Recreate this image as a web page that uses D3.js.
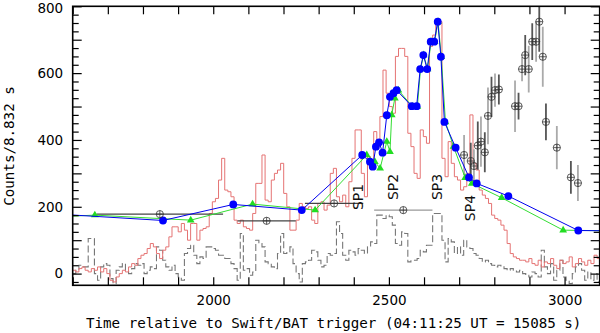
<!DOCTYPE html>
<html>
<head>
<meta charset="utf-8">
<script src="https://d3js.org/d3.v7.min.js"></script>
<style>
  body { margin: 0; background: #fff; }
  text { font-family: "DejaVu Sans", sans-serif; }
</style>
</head>
<body>
<div id="my_dataviz"></div>
<script>

// light curve bins: 8.832 s wide, first bin starts at 1600 s
var binStart = 1600, binWidth = 8.832;

// red histogram (counts per bin)
var redCounts = [10, 5, 15, 20, 10, 5, 15, 10, 20, 5, 15, 0, -20, -25,
  -10, 0, 10, 5, 20, 30, 25,
  45, 55, 60, 75, 90, 80, 60, 45, 70, 80,
  110, 140, 140, 125, 150, 130, 100, 150, 150, 100, 130,
  135, 140, 180, 215, 225, 280, 345, 250, 245, 230,
  160, 150, 160, 140, 135, 130, 180, 270, 270, 355, 220, 215,
  280, 300, 310, 330, 240, 200, 130, 130, 160, 210, 200, 195,
  200, 160, 150, 210, 215, 190, 205,
  300, 315, 230, 215, 235, 200, 275, 345, 430, 430,
  300, 230, 350, 335, 425, 380, 470, 609, 540, 500,
  480, 650, 674, 674, 650, 420, 380, 300, 285, 430,
  410, 390, 680, 714, 754, 754, 345, 290, 395, 330,
  290, 280, 250,
  260, 300, 475, 330, 310, 250, 235, 225, 210, 175,
  165, 160, 145, 130, 90, 60, 50, 45, 40, 40,
  35, 45, 30, 25, 40, 20, 35, 30, 45, 25, 15, 40,
  30, 35, 50, 20, 30, 45, 35, 25, 40, 30, 55, 45];

// gray dashed histogram (counts per bin)
var grayCounts = [0, 10, 25, 20, 20, 105, 105, 0, -20, 20, 30, 25, -15, -30,
  10, 20, 30, 10, 0, 15, 30, 25, 30, 0, 10, 20, 15, 80, 70, 40,
  20, 10, 25, 0, -10, -20, 60, 75, 85, 55, 30,
  50, 45, 80, 80, 75, 70, 55, 55, 45, 45,
  30, 15, -20, 120, 10, 15, -5, 5, 100, 90,
  80, 35, 30, 20, 15, 60, 120, 60, 65, 80,
  30, 0, -25, 30, 35, 40, 70, 65, 40, 20,
  25, 60, 55,
  60, 155, 120, 55, 40, 70, 65, 55, 75, 70,
  60, 80, 95, 90, 175, 175, 165, 175, 170, 145,
  90, 85, 125, 120, 35, 40, 40, 45, 70, 65,
  85, 85, 180, 180, 180, 100, 35, 105, 95, 60,
  80, 55,
  100, 80, 75, 60, 55, 45, 35, 40, 30, 25,
  20, 25, 20, 15, 10, 15, 10, 5, 10, 0,
  -5, -10, 5, 0, -10, 70, 20, 0, 30, -20,
  10, 40, -10, -20, -30, 0, 20, 30, 10, -20,
  5, -20, 0, -25];

// blue points
var blueTime = [1558, 1857, 2057, 2252, 2424, 2446, 2454, 2463, 2472, 2482,
  2494, 2503, 2513, 2522, 2565, 2579, 2589, 2598, 2609, 2619,
  2629, 2639, 2648, 2658, 2690, 2728, 2750, 2840, 3039, 3130];
var blueCounts = [178, 159, 207, 190, 355, 335, 320, 380, 393, 362,
  474, 529, 540, 549, 501, 501, 612, 654, 612, 694,
  694, 754, 649, 454, 377, 288, 270, 232, 129, 128];

// green triangles
var greenTime = [1555, 1663, 1936, 2112, 2290, 2437, 2460, 2475, 2494, 2503,
  2508, 2517, 2527, 2567, 2581, 2590, 2599, 2610, 2620, 2630,
  2640, 2649, 2661, 2684, 2717, 2736, 2821, 2996, 3130];
var greenCounts = [170, 175, 160, 208, 190, 355, 335, 315, 395, 365,
  475, 525, 549, 500, 500, 612, 654, 612, 694, 694,
  754, 649, 454, 380, 287, 270, 227, 130, 128];

// open circles with error bars
var circTime = [1848, 2152, 2344, 2541, 2714, 2733, 2742, 2753, 2762, 2773,
  2782, 2792, 2802, 2813, 2859, 2869, 2879, 2888, 2898, 2908,
  2919, 2928, 2938, 2947, 2978, 3018, 3038];
var circCounts = [178, 158, 210, 190, 355, 337, 322, 383, 395, 363,
  472, 529, 549, 551, 501, 501, 612, 654, 612, 694,
  694, 754, 649, 454, 377, 288, 271];
var circTimeErr = [180, 83, 83, 83, 0, 0, 0, 0, 0, 0,
  0, 0, 0, 0, 0, 0, 0, 0, 0, 0,
  0, 0, 0, 0, 0, 0, 0];
var circCountErr = [0, 0, 0, 0, 60, 55, 50, 72, 75, 60,
  85, 60, 50, 45, 77, 40, 36, 60, 70, 55,
  60, 90, 90, 55, 65, 49, 54];

// labels
var spNames = ["SP1", "SP2", "SP3", "SP4"];
var spTime = [2426, 2526, 2650, 2744];
var spCounts = [190, 220, 220, 157];

var xLabels = [2000, 2500, 3000];
var yLabels = [0, 200, 400, 600, 800];

var W = 600, H = 333;
var pLeft = 72.7, pRight = 599.7, pTop = 6.3, pBottom = 285.3;

var svg = d3.select("#my_dataviz")
  .append("svg")
    .attr("width", W)
    .attr("height", H);

var x = d3.scaleLinear().domain([1600, 3100]).range([pLeft, pRight]);
var y = d3.scaleLinear().domain([-35, 800]).range([pBottom, pTop]);

svg.append("clipPath")
    .attr("id", "clip")
  .append("rect")
    .attr("x", pLeft).attr("y", pTop)
    .attr("width", pRight - pLeft).attr("height", pBottom - pTop);

var plot = svg.append("g").attr("clip-path", "url(#clip)");

// histograms
function steps(counts) {
  var pts = counts.map(function(v, i) { return [binStart + i * binWidth, v]; });
  pts.push([binStart + counts.length * binWidth, counts[counts.length - 1]]);
  return pts;
}
var stepLine = d3.line()
  .x(function(d) { return x(d[0]); })
  .y(function(d) { return y(d[1]); })
  .curve(d3.curveStepAfter);

plot.append("path")
  .datum(steps(grayCounts))
  .attr("d", stepLine)
  .style("fill", "none")
  .style("stroke", "#777")
  .style("stroke-width", 1.1)
  .style("stroke-dasharray", "7,3");

plot.append("path")
  .datum(steps(redCounts))
  .attr("d", stepLine)
  .style("fill", "none")
  .style("stroke", "#e57373")
  .style("stroke-width", 1);

// circles: error bars first
var circ = circTime.map(function(t, i) {
  return {t: t, v: circCounts[i], te: circTimeErr[i], ve: circCountErr[i], i: i};
});
plot.append("g").selectAll("line.h")
  .data(circ.filter(function(d) { return d.te > 0; }))
  .enter().append("line")
    .attr("x1", function(d) { return x(d.t - d.te); })
    .attr("x2", function(d) { return x(d.t + d.te); })
    .attr("y1", function(d) { return y(d.v); })
    .attr("y2", function(d) { return y(d.v); })
    .style("stroke", function(d) { return d.i == 3 ? "#999" : "#444"; })
    .style("stroke-width", 1.3);
plot.append("g").selectAll("line.v")
  .data(circ.filter(function(d) { return d.ve > 0; }))
  .enter().append("line")
    .attr("x1", function(d) { return x(d.t); })
    .attr("x2", function(d) { return x(d.t); })
    .attr("y1", function(d) { return y(d.v - d.ve); })
    .attr("y2", function(d) { return y(d.v + d.ve); })
    .style("stroke", function(d) { return d.i % 2 ? "#555" : "#aaa"; })
    .style("stroke-width", 1.8);

// green line with triangles
var lineGen = d3.line()
  .x(function(d) { return x(d[0]); })
  .y(function(d) { return y(d[1]); });
var green = greenTime.map(function(t, i) { return [t, greenCounts[i]]; });
plot.append("path")
  .datum(green)
  .attr("d", lineGen)
  .style("fill", "none")
  .style("stroke", "#33dd33")
  .style("stroke-width", 1);
plot.append("g").selectAll("path")
  .data(green)
  .enter().append("path")
    .attr("d", d3.symbol().type(d3.symbolTriangle).size(26))
    .attr("transform", function(d) { return "translate(" + x(d[0]) + "," + y(d[1]) + ")"; })
    .style("fill", "#22dd22");

// blue line with dots
var blue = blueTime.map(function(t, i) { return [t, blueCounts[i]]; });
plot.append("path")
  .datum(blue)
  .attr("d", lineGen)
  .style("fill", "none")
  .style("stroke", "#0000ee")
  .style("stroke-width", 1);
plot.append("g").selectAll("circle")
  .data(blue)
  .enter().append("circle")
    .attr("cx", function(d) { return x(d[0]); })
    .attr("cy", function(d) { return y(d[1]); })
    .attr("r", 3.9)
    .style("fill", "#0000ff");

// open circles with cross
var mark = plot.append("g").selectAll("g")
  .data(circ)
  .enter().append("g")
    .attr("transform", function(d) { return "translate(" + x(d.t) + "," + y(d.v) + ")"; });
mark.append("circle")
  .attr("r", 3.6)
  .style("fill", "none")
  .style("stroke", "#333")
  .style("stroke-width", 0.8);
mark.append("path")
  .attr("d", "M-3.6,0H3.6M0,-3.6V3.6")
  .style("stroke", "#333")
  .style("stroke-width", 0.8);

// SP labels
svg.append("g").selectAll("text")
  .data(spNames)
  .enter().append("text")
    .attr("transform", function(d, i) { return "translate(" + x(spTime[i]) + "," + y(spCounts[i]) + ") rotate(-90)"; })
    .style("font-size", "14px")
    .style("fill", "#111")
    .text(function(d) { return d; });

// axes, ticks pointing inwards
var xMinor = d3.range(1600, 3101, 100);
svg.append("g")
  .attr("transform", "translate(0," + pBottom + ")")
  .call(d3.axisBottom(x).tickValues(xMinor).tickSize(-8).tickSizeOuter(0).tickPadding(10)
    .tickFormat(function(d) { return xLabels.indexOf(d) >= 0 ? d : ""; }))
  .call(function(g) { g.select(".domain").remove(); });
svg.append("g")
  .attr("transform", "translate(0," + pTop + ")")
  .call(d3.axisTop(x).tickValues(xMinor).tickSize(-8).tickSizeOuter(0).tickFormat(""))
  .call(function(g) { g.select(".domain").remove(); });

var yMajor = d3.range(0, 801, 100);
var yMinor = d3.range(-25, 801, 25).filter(function(d) { return d % 100 != 0; });
svg.append("g")
  .attr("class", "yleft")
  .attr("transform", "translate(" + pLeft + ",0)")
  .call(d3.axisLeft(y).tickValues(yMajor).tickSize(-9).tickSizeOuter(0).tickPadding(9.5)
    .tickFormat(function(d) { return yLabels.indexOf(d) >= 0 ? d : ""; }))
  .call(function(g) { g.select(".domain").remove(); });
svg.append("g")
  .attr("transform", "translate(" + pLeft + ",0)")
  .call(d3.axisLeft(y).tickValues(yMinor).tickSize(-6).tickSizeOuter(0).tickFormat(""))
  .call(function(g) { g.select(".domain").remove(); });
svg.append("g")
  .attr("transform", "translate(" + pRight + ",0)")
  .call(d3.axisRight(y).tickValues(yMajor).tickSize(-9).tickSizeOuter(0).tickFormat(""))
  .call(function(g) { g.select(".domain").remove(); });
svg.append("g")
  .attr("transform", "translate(" + pRight + ",0)")
  .call(d3.axisRight(y).tickValues(yMinor).tickSize(-6).tickSizeOuter(0).tickFormat(""))
  .call(function(g) { g.select(".domain").remove(); });

svg.selectAll(".tick line").style("stroke", "#000").style("stroke-width", 1.2);
svg.selectAll(".tick text")
  .style("font-family", "'DejaVu Sans', sans-serif")
  .style("font-size", "13.5px")
  .style("fill", "#000");
// keep the top label inside the picture
svg.selectAll(".yleft .tick text")
  .filter(function(d) { return d == 800; })
  .attr("dy", "0.45em");

// frame
svg.append("rect")
  .attr("x", pLeft).attr("y", pTop)
  .attr("width", pRight - pLeft).attr("height", pBottom - pTop)
  .style("fill", "none")
  .style("stroke", "#000")
  .style("stroke-width", 1.6);

// axis titles
svg.append("text")
  .attr("x", 86)
  .attr("y", 328)
  .style("font-family", "'DejaVu Sans Mono', monospace")
  .style("font-size", "14.2px")
  .text("Time relative to Swift/BAT trigger (04:11:25 UT = 15085 s)");

svg.append("text")
  .attr("transform", "translate(14,146) rotate(-90)")
  .attr("text-anchor", "middle")
  .style("font-family", "'DejaVu Sans Mono', monospace")
  .style("font-size", "14.2px")
  .text("Counts/8.832 s");

</script>
</body>
</html>
